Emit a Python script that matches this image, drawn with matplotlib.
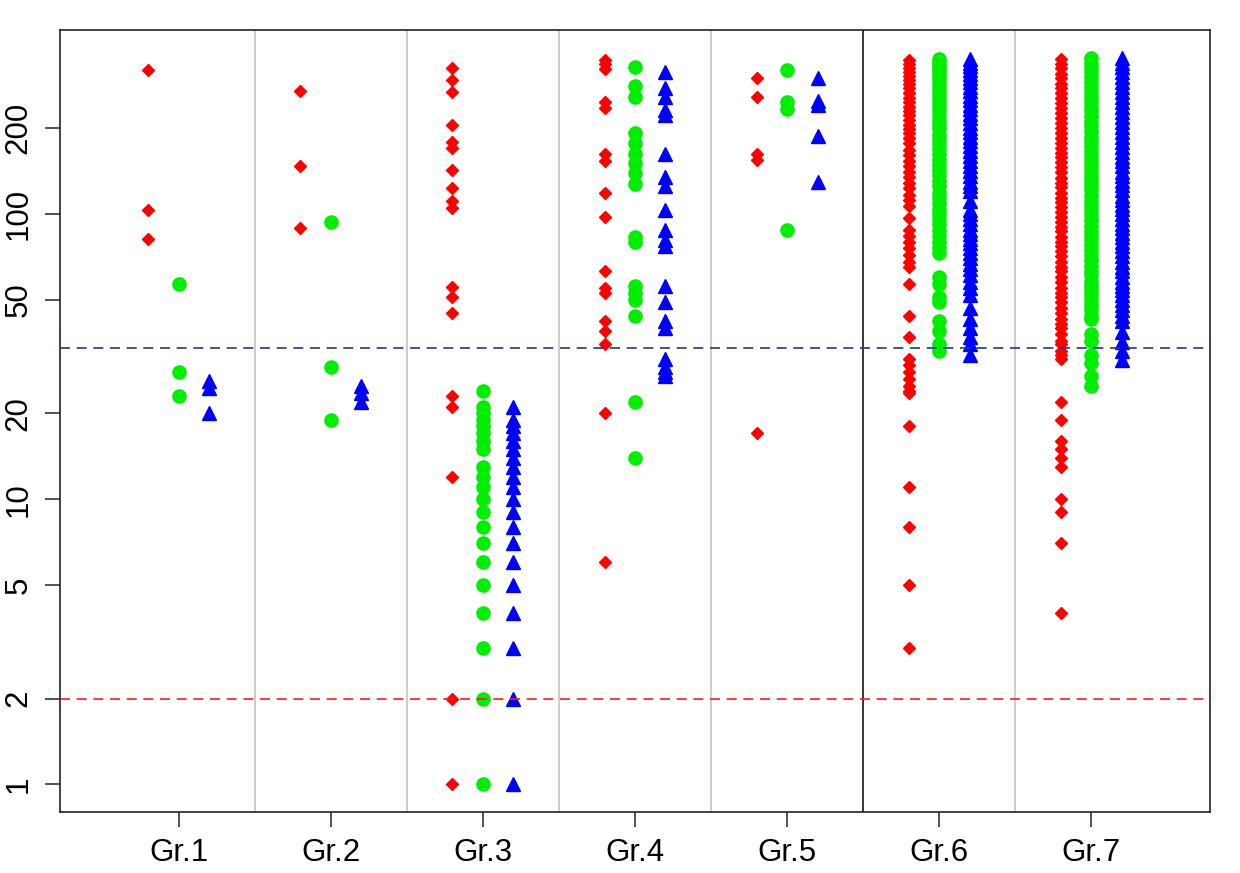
import matplotlib
matplotlib.use("Agg")
import matplotlib.pyplot as plt
from matplotlib.ticker import FixedLocator, NullLocator

plt.rcParams['font.family'] = ['Liberation Sans', 'DejaVu Sans']

groups = ["Gr.1", "Gr.2", "Gr.3", "Gr.4", "Gr.5", "Gr.6", "Gr.7"]

# values per group, red series (diamonds)
red_vals = [
    [320, 103, 82],
    [270, 148, 89],
    [326, 295, 269, 205, 179, 171, 143, 123, 111, 105, 55.5, 51, 45, 23, 21, 12, 2, 1],
    [348, 335, 322, 248, 235, 163, 154, 119, 98, 63, 55, 53, 42, 39, 35, 20, 6],
    [301, 258, 163, 155, 17],
    [346, 336, 326, 316, 306, 296, 286, 276, 266, 256, 247, 238, 230, 222, 214, 206,
     199, 192, 185, 178, 168, 161, 154, 147, 141, 135, 129, 123, 117, 112, 107, 97,
     88, 84, 80, 76, 72, 68, 65, 57, 44, 37, 31, 29.5, 28, 26.5, 25, 24, 23.5, 18,
     11, 8, 5, 3],
    [350, 337, 324, 311, 299, 287, 276, 265, 255, 245, 235, 226, 217, 208, 200, 192,
     185, 178, 171, 164, 158, 152, 146, 140, 134, 129, 124, 119, 114, 110, 106, 102,
     98, 94, 90, 87, 83, 80, 77, 74, 71, 68, 65, 63, 60, 58, 55, 53, 51, 49, 47, 45,
     43, 41, 40, 38, 36, 35, 33, 32, 31, 22, 19, 16, 15, 14, 13, 10, 9, 7, 4],
]

# green series (circles)
green_vals = [
    [57, 28, 23],
    [94, 29, 19],
    [24, 21, 20, 19, 18, 17, 16, 15, 13, 12, 11, 10, 9, 8, 7, 6, 5, 4, 3, 2, 1],
    [327, 281, 258, 192, 177, 163, 151, 139, 127, 83, 80, 56, 53, 50, 44, 22, 14],
    [320, 248, 233, 88],
    [350, 340, 330, 320, 310, 300, 290, 280, 270, 260, 250, 241, 232, 223, 214, 206,
     198, 190, 183, 176, 169, 162, 155, 149, 143, 137, 131, 125, 119, 114, 109, 104,
     100, 96, 92, 88, 84, 80, 76, 73, 60, 57, 51, 49, 42, 39, 35, 33],
    [352, 339, 326, 314, 302, 290, 279, 268, 258, 248, 238, 229, 220, 211, 203, 195,
     187, 180, 173, 166, 160, 154, 148, 142, 136, 131, 126, 121, 116, 111, 107, 103,
     99, 95, 91, 87, 84, 81, 78, 75, 72, 69, 66, 63, 61, 58, 56, 54, 52, 50, 48, 46,
     44, 43, 38, 36, 32, 30, 27, 25],
]

# blue series (triangles)
blue_vals = [
    [26, 24.5, 20],
    [25, 23.5, 22],
    [21, 19, 18, 17, 16, 15, 14, 13, 12, 11, 10, 9, 8, 7, 6, 5, 4, 3, 2, 1],
    [316, 276, 258, 232, 222, 162, 135, 125, 103, 88, 81, 77, 56, 49, 42, 40, 31, 29, 28, 27],
    [300, 249, 241, 188, 130],
    [350, 340, 330, 320, 310, 300, 290, 280, 270, 260, 251, 242, 233, 225, 217, 209,
     201, 194, 187, 180, 173, 166, 160, 154, 148, 142, 136, 130, 125, 120, 111, 103,
     100, 96, 92, 88, 85, 82, 79, 76, 73, 70, 67, 64, 61, 58, 55, 52, 47, 43, 40, 37,
     35, 32],
    [354, 340, 327, 314, 302, 290, 279, 268, 257, 247, 237, 228, 219, 210, 202, 194,
     186, 179, 172, 165, 159, 153, 147, 141, 136, 131, 126, 121, 116, 112, 108, 104,
     100, 96, 92, 89, 86, 83, 80, 77, 74, 71, 68, 65, 63, 60, 58, 56, 54, 52, 50, 48,
     46, 44, 42, 38.5, 35.5, 33, 30.7],
]

ref_lines = [2, 34]
ref_colors = ["#ff1a1a", "#1a3a8f"]
y_ticks = [1, 2, 5, 10, 20, 50, 100, 200]

fig = plt.figure(figsize=(12.4, 8.73), dpi=100)
ax = fig.add_axes([0.0484, 0.0699, 0.9274, 0.8957])
ax.set_yscale("log")

offset = 0.2
for i in range(len(groups)):
    x0 = i + 1
    ax.plot([x0 - offset] * len(red_vals[i]), red_vals[i], linestyle="none",
            marker="D", ms=6, color="#ff0000", mec="#ff0000", zorder=3)
    ax.plot([x0] * len(green_vals[i]), green_vals[i], linestyle="none",
            marker="o", ms=9.5, color="#00ee00", mec="#00ee00", zorder=3)
    ax.plot([x0 + offset] * len(blue_vals[i]), blue_vals[i], linestyle="none",
            marker="^", ms=10.5, color="#0000ff", mec="#0000ff", zorder=3)

# separators between groups
for i in range(1, len(groups)):
    c = "black" if i == 5 else "#bebebe"
    ax.axvline(i + 0.5, color=c, lw=1.1, zorder=1)

for v, c in zip(ref_lines, ref_colors):
    ax.axhline(v, color=c, lw=1.2, dashes=(6, 4), zorder=4)

ax.set_xlim(0.22, 7.78)
ax.set_ylim(0.80, 442)
ax.set_xticks(range(1, len(groups) + 1))
ax.set_xticklabels(groups)
ax.yaxis.set_major_locator(FixedLocator(y_ticks))
ax.yaxis.set_minor_locator(NullLocator())
ax.set_yticklabels([str(t) for t in y_ticks], rotation=90, va="center")
ax.tick_params(axis="both", labelsize=22.5, length=11, width=1.1, color="#222222")
ax.tick_params(axis="x", pad=8)
ax.tick_params(axis="y", pad=8)
for s in ax.spines.values():
    s.set_linewidth(1.2)
    s.set_color("#222222")

fig.savefig("out.png", dpi=100)
